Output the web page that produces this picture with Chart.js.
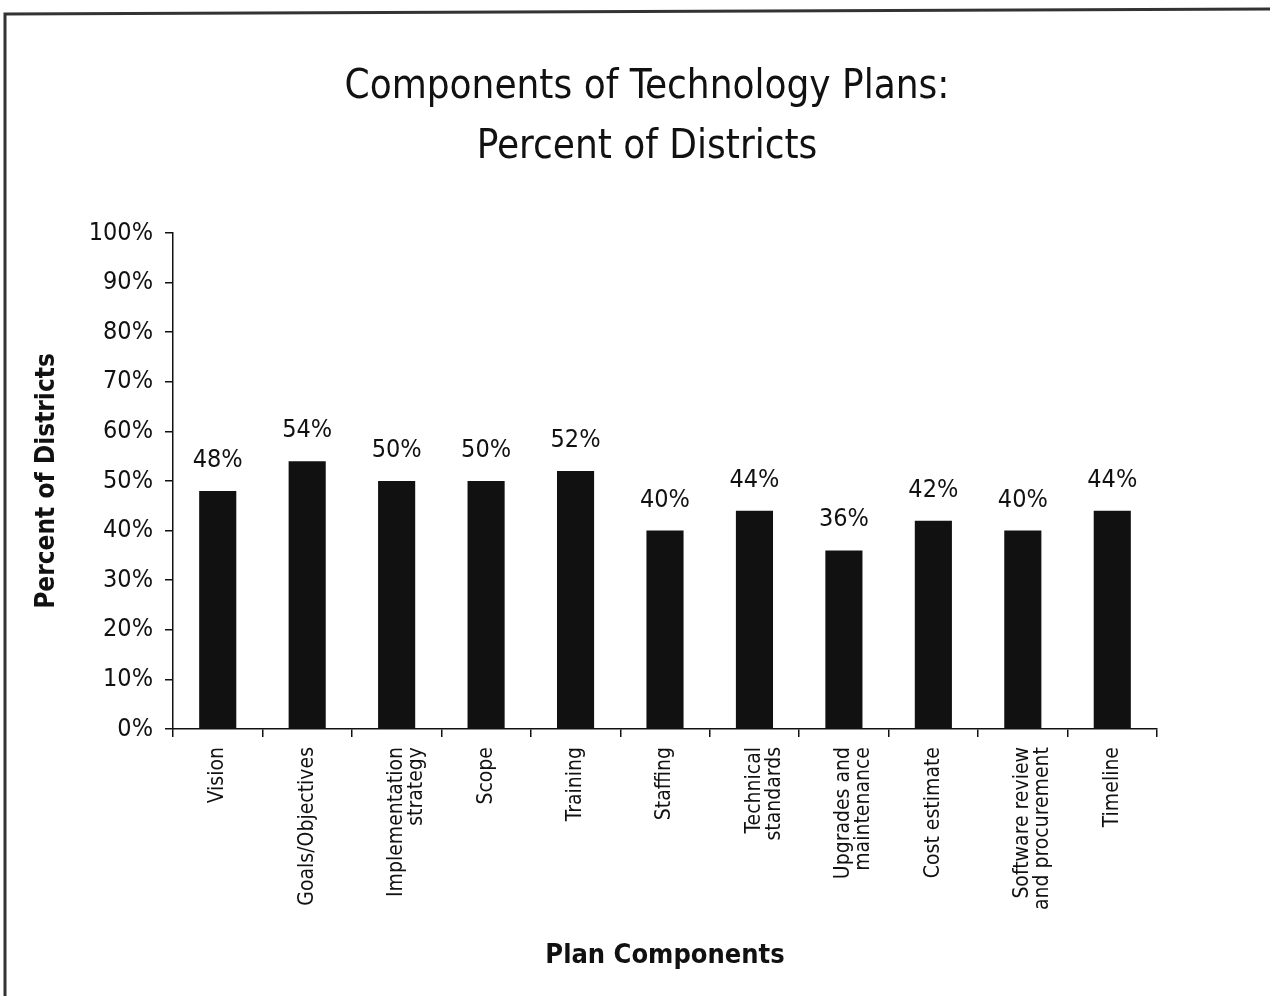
<!DOCTYPE html>
<html>
<head>
<meta charset="utf-8">
<title>Components of Technology Plans</title>
<script src="https://cdn.jsdelivr.net/npm/chart.js@4.4.1/dist/chart.umd.min.js"></script>
<style>
  html, body { margin: 0; padding: 0; background: #fff; }
  #wrap { width: 1270px; height: 996px; }
</style>
</head>
<body>
<div id="wrap"><canvas id="plansChart" width="1270" height="996"></canvas></div>
<script>
// Plan components and share of districts including each one (%)
const components = [
    'Vision',
    'Goals/Objectives',
    ['Implementation', 'strategy'],
    'Scope',
    'Training',
    'Staffing',
    ['Technical', 'standards'],
    ['Upgrades and', 'maintenance'],
    'Cost estimate',
    ['Software review', 'and procurement'],
    'Timeline'
];
const percentOfDistricts = [48, 54, 50, 50, 52, 40, 44, 36, 42, 40, 44];
const yTicks = [0, 10, 20, 30, 40, 50, 60, 70, 80, 90, 100];
const titleLines = ['Components of Technology Plans:', 'Percent of Districts'];

const FONT = '"DejaVu Sans Condensed", "DejaVu Sans", sans-serif';
const INK = '#111';

// Value labels above each bar
const valueLabels = {
    id: 'valueLabels',
    afterDatasetsDraw(chart) {
        const ctx = chart.ctx;
        const meta = chart.getDatasetMeta(0);
        ctx.save();
        ctx.font = '25px ' + FONT;
        ctx.fillStyle = INK;
        ctx.textAlign = 'center';
        ctx.textBaseline = 'bottom';
        meta.data.forEach((bar, i) => {
            ctx.fillText(percentOfDistricts[i] + '%', bar.x, bar.y - 18);
        });
        ctx.restore();
    }
};

// Page frame lines and the two-line heading
const frame = {
    id: 'frame',
    beforeDraw(chart) {
        const ctx = chart.ctx;
        ctx.save();
        ctx.strokeStyle = '#333';
        ctx.lineWidth = 3;
        ctx.beginPath();
        ctx.moveTo(5, 996);
        ctx.lineTo(5, 14);
        ctx.lineTo(1270, 9);
        ctx.stroke();

        ctx.font = '40px ' + FONT;
        ctx.fillStyle = INK;
        ctx.textAlign = 'center';
        ctx.textBaseline = 'middle';
        titleLines.forEach((line, i) => ctx.fillText(line, 647, 88 + i * 60));
        ctx.restore();
    }
};

new Chart(document.getElementById('plansChart'), {
    type: 'bar',
    data: {
        labels: components,
        datasets: [{
            data: percentOfDistricts,
            backgroundColor: INK,
            borderWidth: 0,
            categoryPercentage: 1,
            barPercentage: 0.415
        }]
    },
    options: {
        responsive: false,
        animation: false,
        layout: { padding: { left: 0, right: 113, top: 233, bottom: 0 } },
        plugins: {
            legend: { display: false },
            tooltip: { enabled: false }
        },
        scales: {
            y: {
                min: 0,
                max: 100,
                afterFit(scale) { scale.width = 173; },
                afterBuildTicks(scale) { scale.ticks = yTicks.map(v => ({ value: v })); },
                ticks: {
                    color: INK,
                    font: { family: FONT, size: 25 },
                    padding: 12,
                    callback: v => v + '%'
                },
                grid: { drawOnChartArea: false, drawTicks: true, tickLength: 8, color: INK, lineWidth: 1.5 },
                border: { display: true, color: INK, width: 1.5 },
                title: {
                    display: true,
                    text: 'Percent of Districts',
                    color: INK,
                    font: { family: FONT, size: 26, weight: 'bold' },
                    padding: { top: 32, bottom: 0 }
                }
            },
            x: {
                afterFit(scale) { scale.height = 267; },
                ticks: {
                    color: INK,
                    font: { family: FONT, size: 21, lineHeight: 0.95 },
                    minRotation: 90,
                    maxRotation: 90,
                    padding: 10,
                    autoSkip: false
                },
                grid: { drawOnChartArea: false, drawTicks: true, tickLength: 8, color: INK, lineWidth: 1.5 },
                border: { display: true, color: INK, width: 1.5 },
                title: {
                    display: true,
                    text: 'Plan Components',
                    color: INK,
                    font: { family: FONT, size: 27, weight: 'bold' },
                    padding: { top: 0, bottom: 24 }
                }
            }
        }
    },
    plugins: [valueLabels, frame]
});
</script>
</body>
</html>
